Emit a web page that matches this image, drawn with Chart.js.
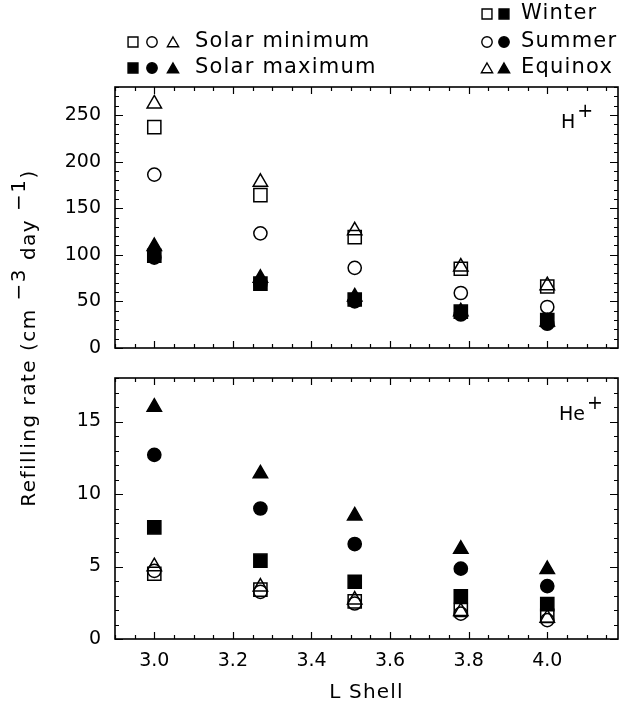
<!DOCTYPE html>
<html>
<head>
<meta charset="utf-8">
<script src="https://cdn.jsdelivr.net/npm/chart.js@4.4.0/dist/chart.umd.min.js"></script>
<style>
  html, body { margin: 0; padding: 0; background: #fff; }
  #wrap { position: relative; width: 629px; height: 717px; }
  #wrap canvas { position: absolute; left: 0; top: 0; }
</style>
</head>
<body>
<div id="wrap">
  <canvas id="hChart" width="629" height="717"></canvas>
  <canvas id="heChart" width="629" height="717"></canvas>
</div>
<script>
// L shell positions of the measurements
const lShell = [3.0, 3.27, 3.51, 3.78, 4.0];

// H+ refilling rates (cm^-3 day^-1)
const hMinWinter  = [237, 164, 119, 85, 66];
const hMinSummer  = [186, 123, 86, 59, 44];
const hMinEquinox = [262, 178, 126, 87, 67];
const hMaxWinter  = [99, 69, 52, 39, 30];
const hMaxSummer  = [97, 69, 50, 36, 26];
const hMaxEquinox = [109, 75, 55, 39, 28];

// He+ refilling rates (cm^-3 day^-1)
const heMinWinter  = [4.5, 3.4, 2.6, 2.0, 1.6];
const heMinSummer  = [4.7, 3.25, 2.45, 1.75, 1.3];
const heMinEquinox = [5.0, 3.6, 2.7, 1.9, 1.45];
const heMaxWinter  = [7.7, 5.4, 3.95, 2.95, 2.4];
const heMaxSummer  = [12.7, 9.0, 6.55, 4.85, 3.65];
const heMaxEquinox = [16.0, 11.4, 8.5, 6.2, 4.8];

// tick labels
const xTicks = [3.0, 3.2, 3.4, 3.6, 3.8, 4.0];
const hTicks = [0, 50, 100, 150, 200, 250];
const heTicks = [0, 5, 10, 15];

const FONT = '"DejaVu Sans", sans-serif';
Chart.defaults.font.family = FONT;
Chart.defaults.font.size = 19;
Chart.defaults.color = '#000';

const STYLE = {
  winter: { pointStyle: 'rect', pointRadius: 9.3 },
  summer: { pointStyle: 'circle', pointRadius: 6.6 },
  equinox: { pointStyle: 'triangle', pointRadius: 8.3 }
};

function series(label, vals, season, filled) {
  return {
    label: label,
    data: lShell.map((x, i) => ({ x: x, y: vals[i] })),
    pointStyle: STYLE[season].pointStyle,
    pointRadius: STYLE[season].pointRadius,
    pointHoverRadius: STYLE[season].pointRadius,
    backgroundColor: filled ? '#000' : 'rgba(0,0,0,0)',
    borderColor: '#000',
    borderWidth: 1.5,
    showLine: false
  };
}

// frame with inward ticks on all four sides
const framePlugin = {
  id: 'frame',
  afterDatasetsDraw(chart, args, opts) {
    const { ctx, chartArea: a, scales: { x, y } } = chart;
    ctx.save();
    ctx.strokeStyle = '#000';
    ctx.lineWidth = 1.6;
    ctx.strokeRect(a.left, a.top, a.right - a.left, a.bottom - a.top);
    ctx.lineWidth = 1.2;
    ctx.beginPath();
    for (let n = Math.ceil(x.min / opts.xMinor - 1e-6); n * opts.xMinor <= x.max + 1e-6; n++) {
      const v = n * opts.xMinor;
      const px = Math.round(x.getPixelForValue(v)) + 0.5;
      const len = xTicks.some(t => Math.abs(t - v) < 1e-6) ? 7 : 4;
      ctx.moveTo(px, a.bottom); ctx.lineTo(px, a.bottom - len);
      ctx.moveTo(px, a.top); ctx.lineTo(px, a.top + len);
    }
    for (let n = Math.ceil(y.min / opts.yMinor - 1e-6); n * opts.yMinor <= y.max + 1e-6; n++) {
      const v = n * opts.yMinor;
      const py = Math.round(y.getPixelForValue(v)) + 0.5;
      const len = opts.yMajor.includes(v) ? 8 : 4;
      ctx.moveTo(a.left, py); ctx.lineTo(a.left + len, py);
      ctx.moveTo(a.right, py); ctx.lineTo(a.right - len, py);
    }
    ctx.stroke();
    // ion label
    ctx.fillStyle = '#000';
    ctx.textBaseline = 'middle';
    ctx.textAlign = 'left';
    ctx.font = '19px ' + FONT;
    ctx.fillText(opts.ion, opts.ionX, a.top + opts.ionDy);
    const w = ctx.measureText(opts.ion).width;
    ctx.fillText('+', opts.ionX + w + 2, a.top + opts.ionDy - 11);
    ctx.restore();
  }
};

function drawRich(ctx, parts, x, y) {
  let cx = x;
  parts.forEach(p => {
    ctx.fillText(p.t, cx, y - (p.sup ? 10 : 0));
    cx += ctx.measureText(p.t).width;
  });
}
function richWidth(ctx, parts) {
  return parts.reduce((s, p) => s + ctx.measureText(p.t).width, 0);
}

// legend, axis titles
const textPlugin = {
  id: 'texts',
  afterDraw(chart) {
    const ctx = chart.ctx;
    const a = chart.chartArea;
    ctx.save();
    ctx.fillStyle = '#000';
    ctx.strokeStyle = '#000';
    ctx.textBaseline = 'middle';
    ctx.textAlign = 'left';

    // x title
    ctx.font = '20px ' + FONT;
    ctx.letterSpacing = '1.2px';
    ctx.textAlign = 'center';
    ctx.fillText('L Shell', (a.left + a.right) / 2, 693);
    ctx.textAlign = 'left';

    // y title
    ctx.letterSpacing = '1.5px';
    const parts = [
      { t: 'Refilling rate (cm ' }, { t: '\u2212' + '3', sup: true },
      { t: ' day ' }, { t: '\u2212' + '1', sup: true }, { t: ')' }
    ];
    ctx.save();
    ctx.translate(30, 338);
    ctx.rotate(-Math.PI / 2);
    drawRich(ctx, parts, -richWidth(ctx, parts) / 2, 0);
    ctx.restore();

    // legend
    ctx.font = '21px ' + FONT;
    ctx.letterSpacing = '1.2px';
    const mk = (style, r, filled, x, y) => {
      ctx.fillStyle = filled ? '#000' : 'rgba(0,0,0,0)';
      ctx.lineWidth = 1.4;
      Chart.helpers.drawPoint(ctx, { pointStyle: style, radius: r, rotation: 0, borderWidth: 1.4 }, x, y);
    };
    const rows = [
      { y: 42, filled: false, text: 'Solar minimum' },
      { y: 68, filled: true, text: 'Solar maximum' }
    ];
    rows.forEach(r => {
      mk('rect', 7, r.filled, 133, r.y);
      mk('circle', 5.2, r.filled, 152, r.y);
      mk('triangle', 6.5, r.filled, 173, r.y + 1.5);
      ctx.fillStyle = '#000';
      ctx.fillText(r.text, 195, r.y);
    });
    const seasons = [
      { y: 14, style: 'rect', r: 7, dy: 0, text: 'Winter' },
      { y: 42, style: 'circle', r: 5.2, dy: 0, text: 'Summer' },
      { y: 68, style: 'triangle', r: 6.5, dy: 1.5, text: 'Equinox' }
    ];
    seasons.forEach(s => {
      mk(s.style, s.r, false, 487, s.y + s.dy);
      mk(s.style, s.r, true, 504, s.y + s.dy);
      ctx.fillStyle = '#000';
      ctx.fillText(s.text, 521, s.y);
    });
    ctx.restore();
  }
};

function baseScales(yMin, yMax, yTicks, showX) {
  return {
    x: {
      type: 'linear', min: 2.9, max: 4.18,
      afterFit: s => { s.height = showX ? 78 : 0; },
      afterBuildTicks: s => { s.ticks = xTicks.map(v => ({ value: v })); },
      ticks: { display: showX, padding: 11, autoSkip: false, maxRotation: 0,
               callback: v => Number(v).toFixed(1) },
      grid: { display: false, drawTicks: false },
      border: { display: false }
    },
    y: {
      type: 'linear', min: yMin, max: yMax,
      afterFit: s => { s.width = 115; },
      afterBuildTicks: s => { s.ticks = yTicks.map(v => ({ value: v })); },
      ticks: { padding: 14, autoSkip: false, callback: v => v },
      grid: { display: false, drawTicks: false },
      border: { display: false }
    }
  };
}

new Chart(document.getElementById('hChart'), {
  type: 'scatter',
  data: {
    datasets: [
      series('Winter (solar min)', hMinWinter, 'winter', false),
      series('Summer (solar min)', hMinSummer, 'summer', false),
      series('Equinox (solar min)', hMinEquinox, 'equinox', false),
      series('Winter (solar max)', hMaxWinter, 'winter', true),
      series('Summer (solar max)', hMaxSummer, 'summer', true),
      series('Equinox (solar max)', hMaxEquinox, 'equinox', true)
    ]
  },
  options: {
    responsive: false,
    animation: false,
    layout: { padding: { top: 87, right: 11, bottom: 369, left: 0 } },
    scales: baseScales(0, 280, hTicks, false),
    plugins: {
      legend: { display: false },
      tooltip: { enabled: false },
      frame: { xMinor: 0.05, yMinor: 10, yMajor: hTicks, ion: 'H', ionX: 561, ionDy: 36 }
    }
  },
  plugins: [framePlugin]
});

new Chart(document.getElementById('heChart'), {
  type: 'scatter',
  data: {
    datasets: [
      series('Winter (solar min)', heMinWinter, 'winter', false),
      series('Summer (solar min)', heMinSummer, 'summer', false),
      series('Equinox (solar min)', heMinEquinox, 'equinox', false),
      series('Winter (solar max)', heMaxWinter, 'winter', true),
      series('Summer (solar max)', heMaxSummer, 'summer', true),
      series('Equinox (solar max)', heMaxEquinox, 'equinox', true)
    ]
  },
  options: {
    responsive: false,
    animation: false,
    layout: { padding: { top: 378, right: 11, bottom: 0, left: 0 } },
    scales: baseScales(0, 18, heTicks, true),
    plugins: {
      legend: { display: false },
      tooltip: { enabled: false },
      frame: { xMinor: 0.05, yMinor: 1, yMajor: heTicks, ion: 'He', ionX: 559, ionDy: 37 }
    }
  },
  plugins: [framePlugin, textPlugin]
});
</script>
</body>
</html>
